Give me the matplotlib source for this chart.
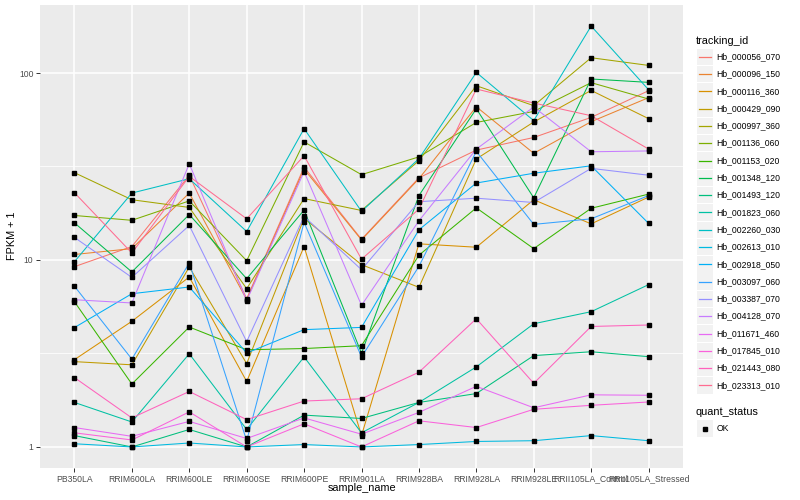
import numpy as np
import matplotlib
matplotlib.use("Agg")
import matplotlib.pyplot as plt
from matplotlib.patches import Rectangle
from matplotlib.lines import Line2D
from matplotlib.ticker import FixedLocator, NullFormatter

plt.rcParams["font.family"] = ["Liberation Sans", "DejaVu Sans"]

W, H = 800, 500

samples = [
    "PB350LA", "RRIM600LA", "RRIM600LE", "RRIM600SE", "RRIM600PE", "RRIM901LA",
    "RRIM928BA", "RRIM928LA", "RRIM928LE", "RRII105LA_Control", "RRII105LA_Stressed",
]

tracking_ids = [
    "Hb_000056_070", "Hb_000096_150", "Hb_000116_360", "Hb_000429_090",
    "Hb_000997_360", "Hb_001136_060", "Hb_001153_020", "Hb_001348_120",
    "Hb_001493_120", "Hb_001823_060", "Hb_002260_030", "Hb_002613_010",
    "Hb_002918_050", "Hb_003097_060", "Hb_003387_070", "Hb_004128_070",
    "Hb_011671_460", "Hb_017845_010", "Hb_021443_080", "Hb_023313_010",
]

# ggplot hue palette, 20 levels
colors = [
    "#F8766D", "#EA8331", "#D89000", "#C09B00", "#A3A500", "#7CAE00", "#39B600",
    "#00BB4E", "#00BF7D", "#00C1A3", "#00BFC4", "#00BAE0", "#00B0F6", "#35A2FF",
    "#9590FF", "#C77CFF", "#E76BF3", "#FA62DB", "#FF62BC", "#FF6C91",
]

# FPKM + 1 per gene, in sample order
hb_000056_070 = [9.21, 11.8, 28.4, 6.21, 31.4, 12.9, 27.5, 38.7, 45.2, 57.9, 80.4]
hb_000096_150 = [10.7, 11.5, 22.8, 6.13, 30.6, 12.8, 27.2, 66.0, 37.2, 54.9, 73.8]
hb_000116_360 = [2.93, 4.70, 8.11, 2.24, 11.8, 1.15, 12.2, 11.7, 21.0, 15.6, 21.7]
hb_000429_090 = [2.86, 2.75, 9.17, 2.79, 16.7, 9.44, 7.14, 34.7, 54.7, 80.7, 57.0]
hb_000997_360 = [29.3, 21.0, 19.1, 7.02, 21.3, 18.4, 34.0, 85.5, 66.9, 120.7, 109.8]
hb_001136_060 = [17.3, 16.3, 20.7, 9.91, 42.8, 28.6, 35.6, 54.4, 62.3, 88.8, 72.6]
hb_001153_020 = [5.98, 2.17, 4.38, 3.31, 3.36, 3.48, 10.6, 19.0, 11.5, 18.9, 22.5]
hb_001348_120 = [15.8, 8.63, 17.5, 7.94, 18.5, 3.17, 22.1, 64.4, 21.5, 92.9, 89.1]
hb_001493_120 = [1.15, 1.00, 1.24, 1.00, 1.48, 1.42, 1.73, 1.93, 3.08, 3.23, 3.04]
hb_001823_060 = [1.73, 1.36, 3.15, 1.24, 3.03, 1.19, 1.73, 2.68, 4.56, 5.29, 7.38]
hb_002260_030 = [9.79, 22.8, 27.2, 14.2, 50.4, 18.2, 34.8, 100.7, 55.6, 178.3, 81.4]
hb_002613_010 = [1.04, 1.00, 1.05, 1.00, 1.03, 1.00, 1.03, 1.07, 1.08, 1.15, 1.08]
hb_002918_050 = [4.35, 6.60, 7.17, 3.18, 4.24, 4.36, 14.5, 25.8, 29.1, 31.9, 15.7]
hb_003097_060 = [7.24, 2.95, 9.64, 1.08, 15.9, 3.03, 9.24, 38.1, 15.5, 16.6, 22.1]
hb_003387_070 = [13.2, 8.07, 15.3, 3.66, 17.1, 8.87, 20.5, 21.4, 20.3, 30.9, 28.4]
hb_004128_070 = [6.13, 5.89, 32.7, 6.06, 29.7, 5.72, 16.2, 39.2, 65.8, 37.9, 38.3]
hb_011671_460 = [1.27, 1.14, 1.37, 1.11, 1.43, 1.17, 1.53, 2.11, 1.62, 1.90, 1.89]
hb_017845_010 = [1.19, 1.09, 1.54, 1.00, 1.33, 1.00, 1.38, 1.27, 1.59, 1.67, 1.74]
hb_021443_080 = [2.35, 1.43, 1.98, 1.40, 1.76, 1.81, 2.51, 4.85, 2.19, 4.41, 4.49]
hb_023313_010 = [22.9, 10.9, 28.0, 16.6, 36.1, 10.1, 18.7, 82.1, 69.1, 59.1, 39.2]

series = [
    hb_000056_070, hb_000096_150, hb_000116_360, hb_000429_090, hb_000997_360,
    hb_001136_060, hb_001153_020, hb_001348_120, hb_001493_120, hb_001823_060,
    hb_002260_030, hb_002613_010, hb_002918_050, hb_003097_060, hb_003387_070,
    hb_004128_070, hb_011671_460, hb_017845_010, hb_021443_080, hb_023313_010,
]


def fx(px):
    return px / W


def fy(py):
    return 1 - py / H


fig = plt.figure(figsize=(W / 100, H / 100), dpi=100)
ax = fig.add_axes([fx(40), fy(468), fx(683 - 40), (468 - 5) / H])
ax.set_facecolor("#EBEBEB")
for side in ax.spines.values():
    side.set_visible(False)

x = np.arange(len(samples))
for vals, color in zip(series, colors):
    ax.plot(x, vals, color=color, lw=0.75, zorder=2)
for vals in series:
    ax.plot(x, vals, ls="none", marker="s", ms=2.2, color="black", zorder=3)

ax.set_yscale("log")
lo = np.log10(min(min(s) for s in series))
hi = np.log10(max(max(s) for s in series))
pad = 0.05 * (hi - lo)
ax.set_ylim(10 ** (lo - pad), 10 ** (hi + pad))
ax.set_xlim(-0.6, len(samples) - 0.4)

ax.yaxis.set_major_locator(FixedLocator([1, 10, 100]))
ax.set_yticklabels(["1", "10", "100"])
ax.yaxis.set_minor_locator(FixedLocator([10 ** 0.5, 10 ** 1.5]))
ax.yaxis.set_minor_formatter(NullFormatter())
ax.set_xticks(x)
ax.set_xticklabels(samples)

ax.grid(which="major", color="white", lw=1.1, zorder=0)
ax.grid(which="minor", axis="y", color="white", lw=0.55, zorder=0)
ax.set_axisbelow(True)
ax.tick_params(which="major", length=2.7, width=0.7, color="#333333",
               labelcolor="#4D4D4D", labelsize=6.2, pad=2)
ax.tick_params(which="minor", length=0)

fig.text(fx(362), fy(488), "sample_name", fontsize=7.8, ha="center", va="center")
fig.text(fx(12), fy(236), "FPKM + 1", fontsize=7.8, rotation=90,
         ha="center", va="center")

# legend: tracking_id
tr = fig.transFigure
fig.text(fx(696), fy(40.7), "tracking_id", fontsize=7.8, ha="left", va="center")
for i, (label, color) in enumerate(zip(tracking_ids, colors)):
    cy = 56.7 + i * 17.3
    fig.patches.append(Rectangle((fx(696.5), fy(cy + 8.2)), fx(16.5), 16.4 / H,
                                 transform=tr, facecolor="#F2F2F2", edgecolor="none"))
    fig.lines.append(Line2D([fx(698.5), fx(711)], [fy(cy), fy(cy)], transform=tr,
                            color=color, lw=0.9))
    fig.text(fx(716.5), fy(cy), label, fontsize=6.2, ha="left", va="center")

# legend: quant_status
fig.text(fx(696), fy(412.3), "quant_status", fontsize=7.8, ha="left", va="center")
cy = 428.5
fig.patches.append(Rectangle((fx(696.5), fy(cy + 8.2)), fx(16.5), 16.4 / H,
                             transform=tr, facecolor="#F2F2F2", edgecolor="none"))
fig.lines.append(Line2D([fx(704.7)], [fy(cy)], transform=tr, ls="none",
                        marker="s", ms=2.6, color="black"))
fig.text(fx(716.5), fy(cy), "OK", fontsize=6.2, ha="left", va="center")

fig.savefig("out.png", dpi=100)
